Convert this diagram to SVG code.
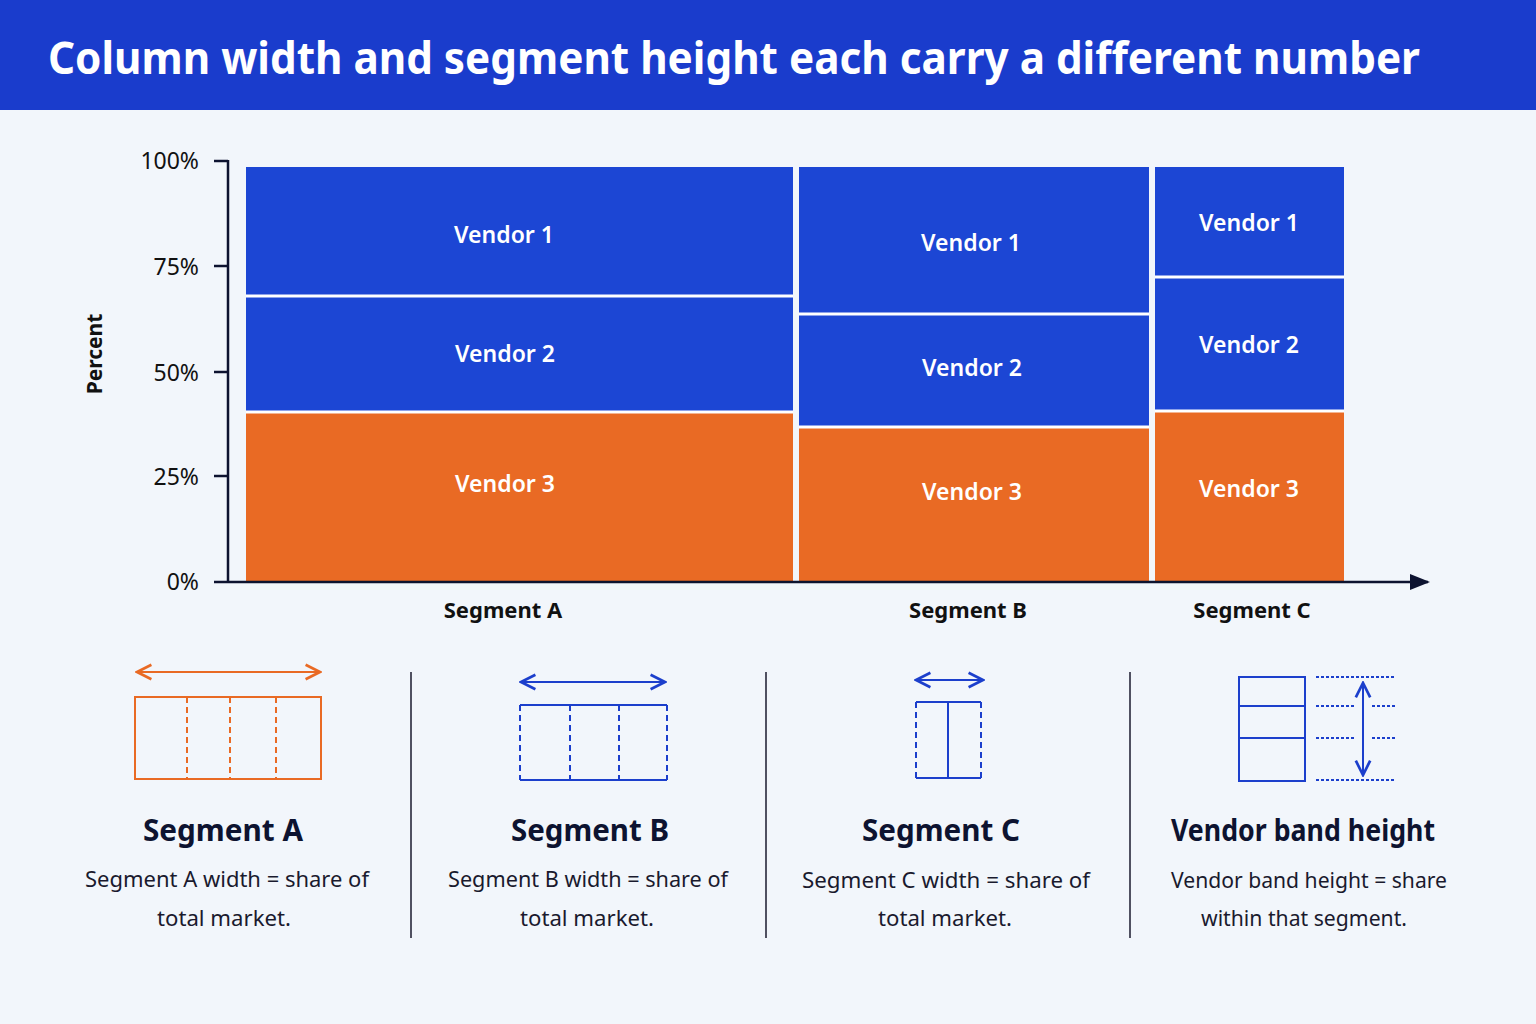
<svg xmlns="http://www.w3.org/2000/svg" width="1536" height="1024" viewBox="0 0 1536 1024">
<defs>
<style>
text{font-family:"Noto Sans","Liberation Sans",sans-serif}
.v{fill:#fff;font-size:23px;font-weight:600;text-anchor:middle}
.tick{font-size:23px;fill:#111;text-anchor:end}
.seg{font-size:22px;font-weight:700;fill:#111;text-anchor:middle}
.h{font-size:30px;font-weight:700;fill:#0d1330;text-anchor:middle}
.d{font-size:22px;fill:#1a1a2e;text-anchor:middle}
.blue{fill:#1c46d4}.orange{fill:#e96a24}
.sep{stroke:#fff;stroke-width:3}
.ob{fill:none;stroke:#e96a24;stroke-width:2}
.bb{fill:none;stroke:#1c3fcc;stroke-width:2}
.dash{stroke-dasharray:6 4}
</style>
<marker id="ao" viewBox="0 0 10 10" refX="9" refY="5" markerWidth="9" markerHeight="9" orient="auto-start-reverse"><path d="M1 1L9 5L1 9" fill="none" stroke="#e96a24" stroke-width="1.5"/></marker>
<marker id="ab" viewBox="0 0 10 10" refX="9" refY="5" markerWidth="9" markerHeight="9" orient="auto-start-reverse"><path d="M1 1L9 5L1 9" fill="none" stroke="#1c3fcc" stroke-width="1.5"/></marker>
<marker id="ax" viewBox="0 0 10 10" refX="9" refY="5" markerWidth="8" markerHeight="8" orient="auto"><path d="M0 1L10 5L0 9z" fill="#0d1330"/></marker>
</defs>
<rect width="1536" height="1024" fill="#f2f6fb"/>
<rect width="1536" height="110" fill="#1a3ccc"/>
<text x="48" y="74" font-size="44" font-weight="700" fill="#fff" textLength="1372" lengthAdjust="spacingAndGlyphs">Column width and segment height each carry a different number</text>

<g id="chart">
<rect class="orange" x="246" y="412" width="547" height="169"/>
<rect class="blue" x="246" y="296" width="547" height="116"/>
<rect class="blue" x="246" y="167" width="547" height="129"/>
<rect class="orange" x="799" y="427" width="350" height="154"/>
<rect class="blue" x="799" y="314" width="350" height="113"/>
<rect class="blue" x="799" y="167" width="350" height="147"/>
<rect class="orange" x="1155" y="411" width="189" height="170"/>
<rect class="blue" x="1155" y="277" width="189" height="134"/>
<rect class="blue" x="1155" y="167" width="189" height="110"/>
<line class="sep" x1="246" y1="412" x2="793" y2="412"/><line class="sep" x1="246" y1="296" x2="793" y2="296"/>
<line class="sep" x1="799" y1="427" x2="1149" y2="427"/><line class="sep" x1="799" y1="314" x2="1149" y2="314"/>
<line class="sep" x1="1155" y1="411" x2="1344" y2="411"/><line class="sep" x1="1155" y1="277" x2="1344" y2="277"/>
<text class="v" x="504" y="243">Vendor 1</text><text class="v" x="505" y="362">Vendor 2</text><text class="v" x="505" y="492">Vendor 3</text>
<text class="v" x="971" y="251">Vendor 1</text><text class="v" x="972" y="376">Vendor 2</text><text class="v" x="972" y="500">Vendor 3</text>
<text class="v" x="1249" y="231">Vendor 1</text><text class="v" x="1249" y="353">Vendor 2</text><text class="v" x="1249" y="497">Vendor 3</text>
</g>
<g id="axes" stroke="#0d1330" stroke-width="2.5">
<line x1="228" y1="160" x2="228" y2="582"/>
<line x1="214" y1="582" x2="1428" y2="582" marker-end="url(#ax)"/>
<line x1="214" y1="161" x2="228" y2="161"/><line x1="214" y1="266" x2="228" y2="266"/><line x1="214" y1="372" x2="228" y2="372"/><line x1="214" y1="476" x2="228" y2="476"/>
</g>
<text class="tick" x="199" y="169">100%</text><text class="tick" x="199" y="275">75%</text><text class="tick" x="199" y="381">50%</text><text class="tick" x="199" y="485">25%</text><text class="tick" x="199" y="590">0%</text>
<text x="102" y="354" font-size="21" font-weight="700" fill="#111" text-anchor="middle" transform="rotate(-90 102 354)">Percent</text>
<text class="seg" x="503" y="618">Segment A</text><text class="seg" x="968" y="618">Segment B</text><text class="seg" x="1252" y="618">Segment C</text>

<g stroke="#1a1a2e" stroke-width="1.5"><line x1="411" y1="672" x2="411" y2="938"/><line x1="766" y1="672" x2="766" y2="938"/><line x1="1130" y1="672" x2="1130" y2="938"/></g>

<g id="legendA">
<line class="ob" x1="137" y1="672" x2="320" y2="672" marker-start="url(#ao)" marker-end="url(#ao)"/>
<rect class="ob" x="135" y="697" width="186" height="82"/>
<g class="ob dash"><line x1="187" y1="697" x2="187" y2="779"/><line x1="230" y1="697" x2="230" y2="779"/><line x1="276" y1="697" x2="276" y2="779"/></g>
<text class="h" x="223" y="841" textLength="160" lengthAdjust="spacingAndGlyphs">Segment A</text>
<text class="d" x="227" y="887" textLength="284" lengthAdjust="spacingAndGlyphs">Segment A width = share of</text><text class="d" x="224" y="926" textLength="134" lengthAdjust="spacingAndGlyphs">total market.</text>
</g>
<g id="legendB">
<line class="bb" x1="521" y1="682" x2="665" y2="682" marker-start="url(#ab)" marker-end="url(#ab)"/>
<line class="bb" x1="520" y1="705" x2="667" y2="705"/><line class="bb" x1="520" y1="780" x2="667" y2="780" stroke-width="2.5"/>
<g class="bb dash"><line x1="520" y1="705" x2="520" y2="780"/><line x1="570" y1="705" x2="570" y2="780"/><line x1="619" y1="705" x2="619" y2="780"/><line x1="667" y1="705" x2="667" y2="780"/></g>
<text class="h" x="590" y="841" textLength="158" lengthAdjust="spacingAndGlyphs">Segment B</text>
<text class="d" x="588" y="887" textLength="280" lengthAdjust="spacingAndGlyphs">Segment B width = share of</text><text class="d" x="587" y="926" textLength="134" lengthAdjust="spacingAndGlyphs">total market.</text>
</g>
<g id="legendC">
<line class="bb" x1="916" y1="680" x2="983" y2="680" marker-start="url(#ab)" marker-end="url(#ab)"/>
<line class="bb" x1="916" y1="702" x2="981" y2="702"/><line class="bb" x1="916" y1="778" x2="981" y2="778"/>
<g class="bb dash"><line x1="916" y1="702" x2="916" y2="778"/><line x1="981" y1="702" x2="981" y2="778"/></g>
<line class="bb" x1="948" y1="702" x2="948" y2="778" stroke-width="1.5"/>
<text class="h" x="941" y="841" textLength="158" lengthAdjust="spacingAndGlyphs">Segment C</text>
<text class="d" x="946" y="888" textLength="288" lengthAdjust="spacingAndGlyphs">Segment C width = share of</text><text class="d" x="945" y="926" textLength="134" lengthAdjust="spacingAndGlyphs">total market.</text>
</g>
<g id="legendV">
<rect class="bb" x="1239" y="677" width="66" height="104"/>
<line class="bb" x1="1239" y1="706" x2="1305" y2="706"/><line class="bb" x1="1239" y1="738" x2="1305" y2="738"/>
<g class="bb" stroke-dasharray="3 2" stroke-width="1.5"><line x1="1316" y1="677" x2="1396" y2="677"/><line x1="1316" y1="706" x2="1356" y2="706"/><line x1="1372" y1="706" x2="1396" y2="706"/><line x1="1316" y1="738" x2="1356" y2="738"/><line x1="1372" y1="738" x2="1396" y2="738"/><line x1="1316" y1="780" x2="1396" y2="780"/></g>
<line class="bb" x1="1363" y1="683" x2="1363" y2="775" marker-start="url(#ab)" marker-end="url(#ab)"/>
<text class="h" x="1303" y="841" textLength="264" lengthAdjust="spacingAndGlyphs">Vendor band height</text>
<text class="d" x="1309" y="888" textLength="276" lengthAdjust="spacingAndGlyphs">Vendor band height = share</text><text class="d" x="1304" y="926" textLength="206" lengthAdjust="spacingAndGlyphs">within that segment.</text>
</g>
</svg>
